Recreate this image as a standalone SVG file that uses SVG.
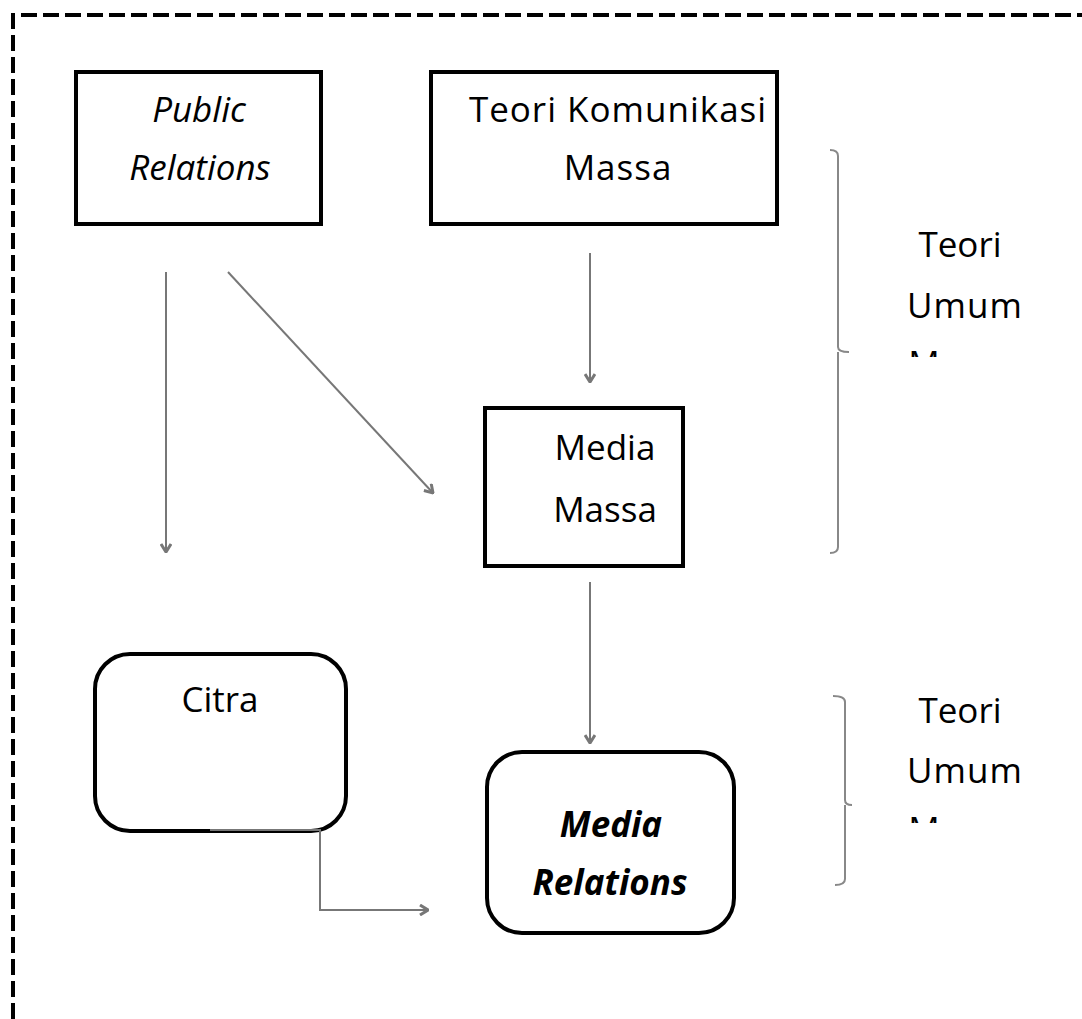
<svg xmlns="http://www.w3.org/2000/svg" width="1082" height="1019" viewBox="0 0 1082 1019">
<style>
.box{fill:#fff;stroke:#000;stroke-width:4}
.t{font-family:"Open Sans","Noto Sans","Liberation Sans",sans-serif;font-size:35px;fill:#000;text-anchor:middle}
.i{font-style:italic}
.b{font-weight:bold}
.c{fill:none;stroke:#777;stroke-width:2}
.br{fill:none;stroke:#888;stroke-width:2}
</style>
<defs>
<marker id="ah" viewBox="0 0 12 12" refX="11" refY="6" markerWidth="12" markerHeight="12" orient="auto" markerUnits="userSpaceOnUse">
<path d="M3,1 L11,6 L3,11" fill="none" stroke="#777" stroke-width="3"/>
</marker>
<clipPath id="clip1"><rect x="880" y="200" width="200" height="157"/></clipPath>
<clipPath id="clip2"><rect x="880" y="680" width="200" height="143"/></clipPath>
</defs>
<rect width="1082" height="1019" fill="#fff"/>
<path d="M13,1019 L13,15 L1082,15" fill="none" stroke="#000" stroke-width="4" stroke-dasharray="16,6"/>
<g id="connectors">
<line class="c" x1="166" y1="272" x2="166" y2="552" marker-end="url(#ah)"/>
<line class="c" x1="228" y1="272" x2="433" y2="493" marker-end="url(#ah)"/>
<line class="c" x1="590" y1="253" x2="590" y2="382" marker-end="url(#ah)"/>
<line class="c" x1="590" y1="582" x2="590" y2="743" marker-end="url(#ah)"/>
</g>
<g id="n-pr"><rect class="box" x="76" y="72" width="245" height="152"/>
<text class="t i" x="199" y="122">Public</text>
<text class="t i" x="200" y="180">Relations</text></g>
<g id="n-tkm"><rect class="box" x="431" y="72" width="346" height="152"/>
<text class="t" x="618" y="122" letter-spacing="1">Teori Komunikasi</text>
<text class="t" x="618" y="180" letter-spacing="1">Massa</text></g>
<g id="n-mm"><rect class="box" x="485" y="408" width="198" height="158"/>
<text class="t" x="605" y="460">Media</text>
<text class="t" x="605" y="522">Massa</text></g>
<g id="n-citra"><rect class="box" x="95" y="654" width="251" height="177" rx="35"/>
<text class="t" x="220" y="712">Citra</text></g>
<g id="n-mr"><rect class="box" x="487" y="752" width="247" height="181" rx="35"/>
<text class="t i b" x="611" y="837">Media</text>
<text class="t i b" x="610" y="895">Relations</text></g>
<g id="connectors2">
<path class="c" d="M210,830 L320,830 L320,910 L428,910" marker-end="url(#ah)"/>
</g>
<g id="brackets">
<path class="br" d="M830,150 Q838,150 838,156 L838,347 Q838,352 849,352 M838,352 L838,547 Q838,553 830,553"/>
<path class="br" d="M833,696 Q845,696 845,702 L845,800 Q845,805 852,805 M845,805 L845,879 Q845,885 835,885"/>
</g>
<g id="label1" clip-path="url(#clip1)">
<text class="t" x="960" y="257">Teori</text>
<text class="t" x="965" y="318" letter-spacing="1">Umum</text>
<text class="t" x="960" y="376">Massa</text></g>
<g id="label2" clip-path="url(#clip2)">
<text class="t" x="960" y="723">Teori</text>
<text class="t" x="965" y="783" letter-spacing="1">Umum</text>
<text class="t" x="960" y="842">Massa</text></g>
</svg>
